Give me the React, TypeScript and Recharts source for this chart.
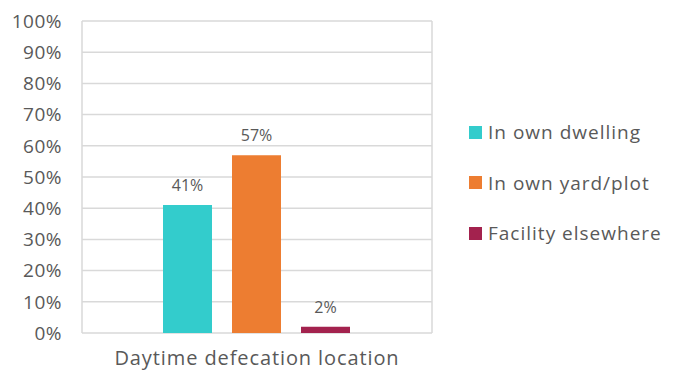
import { BarChart, Bar, XAxis, YAxis, CartesianGrid, LabelList } from 'recharts'

const categories = ['Daytime defecation location']
const seriesNames = ['In own dwelling', 'In own yard/plot', 'Facility elsewhere']
const dwelling = [41]
const yard = [57]
const elsewhere = [2]
const yTicks = [0, 10, 20, 30, 40, 50, 60, 70, 80, 90, 100]

const colors = ['#33CCCC', '#ED7D31', '#A3224E']
const keys = ['dwelling', 'yard', 'elsewhere']
const textColor = '#595959'
const font = '"Open Sans", sans-serif'

const data = categories.map((name, i) => ({
  name,
  dwelling: dwelling[i],
  yard: yard[i],
  elsewhere: elsewhere[i],
}))

const LegendBox = () => (
  <div style={{ position: 'absolute', left: 461, top: 99, fontFamily: font }}>
    {seriesNames.map((s, i) => (
      <div key={s} style={{ display: 'flex', alignItems: 'center', height: 50.5 }}>
        <span style={{ width: 13, height: 13, background: colors[i], marginRight: 6, flexShrink: 0 }} />
        <span style={{ fontSize: 19, color: textColor, whiteSpace: 'nowrap', letterSpacing: 1 }}>{s}</span>
      </div>
    ))}
  </div>
)

export default function App() {
  return (
    <div style={{ position: 'relative', width: 667, height: 364 }}>
      <BarChart
        width={667}
        height={364}
        data={data}
        margin={{ top: 13, right: 243, left: 0, bottom: 0 }}
        barCategoryGap={81}
        barGap={20}
      >
        <CartesianGrid
          stroke="#D9D9D9"
          strokeWidth={1.5}
          verticalCoordinatesGenerator={({ offset }: any) => [offset.left, offset.left + offset.width]}
        />
        <XAxis
          dataKey="name"
          axisLine={false}
          tickLine={false}
          height={39}
          tickMargin={12}
          tick={{ fontSize: 20, fill: textColor, fontFamily: font, letterSpacing: 0.9 }}
        />
        <YAxis
          domain={[0, 100]}
          ticks={yTicks}
          interval={0}
          width={74}
          axisLine={false}
          tickLine={false}
          tickSize={0}
          tickMargin={20}
          tickFormatter={(v: number) => `${v}%`}
          tick={{ fontSize: 19, fill: textColor, fontFamily: font, letterSpacing: 0.5 }}
        />
        {keys.map((k, i) => (
          <Bar key={k} dataKey={k} name={seriesNames[i]} fill={colors[i]} isAnimationActive={false}>
            <LabelList
              dataKey={k}
              position="top"
              offset={14}
              formatter={(v: any) => `${v}%`}
              style={{ fontSize: 16, fill: textColor, fontFamily: font }}
            />
          </Bar>
        ))}
      </BarChart>
      <LegendBox />
    </div>
  )
}
